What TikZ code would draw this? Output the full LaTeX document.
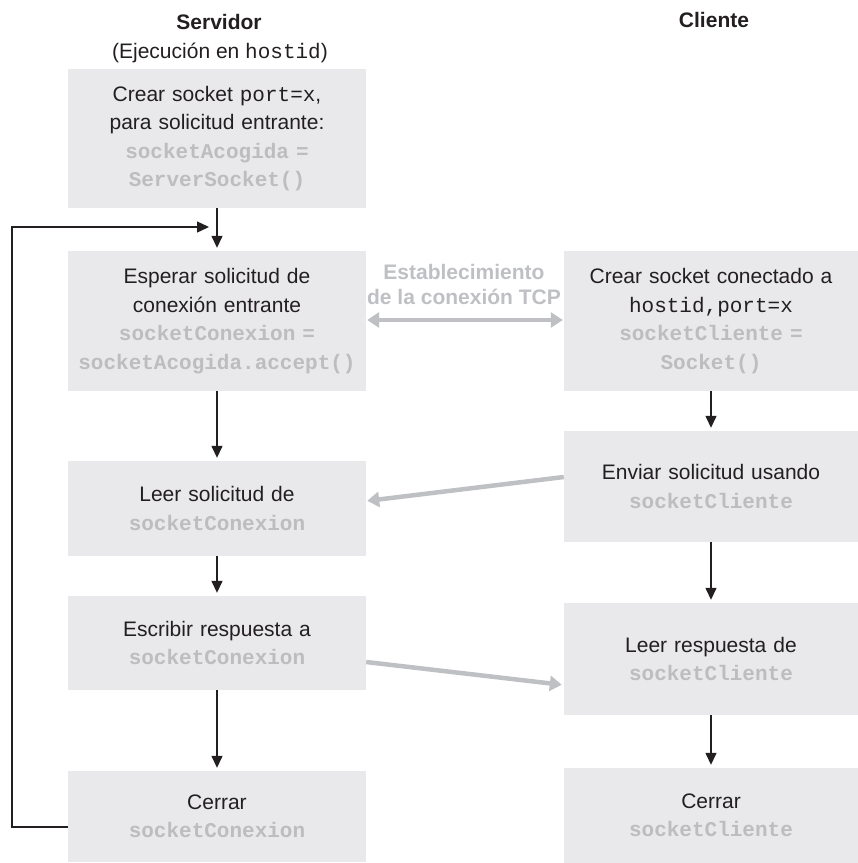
\documentclass[tikz,border=0pt]{standalone}
\usepackage{fontspec}
\setmainfont{Liberation Sans}
\setmonofont{Liberation Mono}
\usetikzlibrary{arrows.meta}
\definecolor{boxfill}{HTML}{E9E9EB}
\definecolor{codegray}{HTML}{BDBDC0}
\definecolor{ink}{HTML}{231F20}
\definecolor{arrowgray}{HTML}{BFC0C4}
\newcommand{\cdg}[1]{{\ttfamily\bfseries\color{codegray}#1}}
\newcommand{\cdk}[1]{{\ttfamily #1}}
\tikzset{
  stepbox/.style={fill=boxfill, text width=#1, align=center, inner sep=0pt,
    font=\fontsize{21}{28.5}\selectfont, text=ink},
  stepbox/.default=298pt,
  head/.style={font=\fontsize{21}{26}\selectfont, text=ink, inner sep=0pt},
  flow/.style={draw=ink, line width=1.4pt, -{Triangle[length=12pt,width=11pt]}, shorten >=3pt},
  msg/.style={draw=arrowgray, line width=4.5pt, -{Triangle[length=12pt,width=15pt]}},
  msgboth/.style={draw=arrowgray, line width=4.5pt, {Triangle[length=12pt,width=15pt]}-{Triangle[length=12pt,width=15pt]}}
}
\begin{document}
\begin{tikzpicture}[x=1pt,y=-1pt]
\useasboundingbox (0,0) rectangle (858,863);
% headings
\node[head, font=\fontsize{21}{26}\selectfont\bfseries] (hs) at (219,22) {Servidor};
\node[head] (he) at (220,53) {(Ejecución en \cdk{hostid})};
\node[head, font=\fontsize{21}{26}\selectfont\bfseries] (hc) at (714,20) {Cliente};
% server boxes
\node[stepbox, minimum height=139pt] (L1) at (217,138.5)
  {Crear socket \cdk{port=x},\\para solicitud entrante:\\\cdg{socketAcogida =}\\\cdg{ServerSocket()}};
\node[stepbox, minimum height=140pt] (L2) at (217,321)
  {Esperar solicitud de\\conexión entrante\\\cdg{socketConexion =}\\\cdg{socketAcogida.accept()}};
\node[stepbox, minimum height=95pt] (L3) at (217,508.5)
  {Leer solicitud de\\\cdg{socketConexion}};
\node[stepbox, minimum height=94pt] (L4) at (217,643)
  {Escribir respuesta a\\\cdg{socketConexion}};
\node[stepbox, minimum height=91pt] (L5) at (217,816.5)
  {Cerrar\\\cdg{socketConexion}};
% client boxes
\node[stepbox=294pt, minimum height=140pt] (R1) at (711,321)
  {Crear socket conectado a\\\cdk{hostid,port=x}\\\cdg{socketCliente =}\\\cdg{Socket()}};
\node[stepbox=294pt, minimum height=111pt] (R2) at (711,486.5)
  {Enviar solicitud usando\\\cdg{socketCliente}};
\node[stepbox=294pt, minimum height=112pt] (R3) at (711,659)
  {Leer respuesta de\\\cdg{socketCliente}};
\node[stepbox=294pt, minimum height=95pt] (R4) at (711,815.5)
  {Cerrar\\\cdg{socketCliente}};
% TCP label
\node[font=\fontsize{21}{25}\selectfont\bfseries, text=arrowgray, align=center, inner sep=0pt] (tcp) at (464,284.5)
  {Establecimiento\\de la conexión TCP};
% flow arrows
\draw[flow] (L1) -- (L2);
\draw[flow] (L2) -- (L3);
\draw[flow] (L3) -- (L4);
\draw[flow] (L4) -- (L5);
\draw[flow] (R1) -- (R2);
\draw[flow] (R2) -- (R3);
\draw[flow] (R3) -- (R4);
% feedback loop
\coordinate (fbend) at (209,227);
\draw[draw=ink, line width=1.4pt, -{Triangle[length=12pt,width=11pt]}]
  ([yshift=-10.5pt]L5.west) -- ++(-56,0) |- (fbend);
% messages
\draw[msgboth, shorten <=1pt, shorten >=1pt] (L2.east |- 0,320) -- (R1.west |- 0,320);
\draw[msg, shorten >=1pt] ([yshift=9.5pt]R2.west) -- ([yshift=7.5pt]L3.east);
\draw[msg, shorten >=2pt] ([yshift=-19pt]L4.east) -- ([yshift=-26pt]R3.west);
\end{tikzpicture}
\end{document}
